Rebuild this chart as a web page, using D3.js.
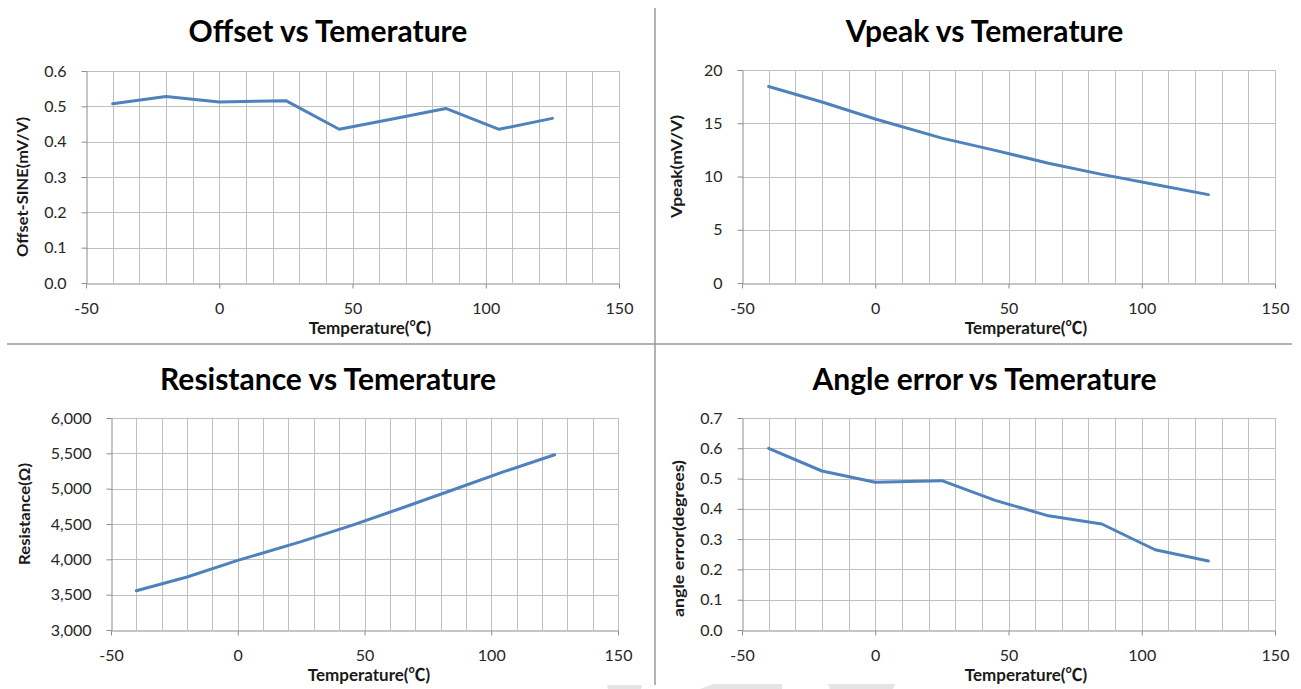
<!DOCTYPE html>
<html>
<head>
<meta charset="utf-8">
<script src="https://cdn.jsdelivr.net/npm/d3@7"></script>
<style>
  body { margin: 0; background: #fff; }
  svg { display: block; }
  text { font-family: Lato, "Noto Sans CJK SC", sans-serif; }
</style>
</head>
<body>
<svg id="chart" width="1301" height="689"></svg>
<script>
// 温度 (x軸)
const temps = [-40, -20, 0, 25, 45, 65, 85, 105, 125];
const xTicks = [-50, 0, 50, 100, 150];

// 各グラフの値
const offsetVals = [0.507, 0.528, 0.512, 0.516, 0.435, 0.464, 0.494, 0.435, 0.466];
const vpeakVals = [18.45, 17.0, 15.4, 13.6, 12.45, 11.25, 10.2, 9.25, 8.3];
const resistanceVals = [3555, 3750, 3985, 4250, 4480, 4730, 4985, 5240, 5480];
const angleVals = [0.60, 0.525, 0.488, 0.493, 0.428, 0.377, 0.350, 0.265, 0.228];

// y軸の目盛り
const offsetTicks = [0, 0.1, 0.2, 0.3, 0.4, 0.5, 0.6];
const vpeakTicks = [0, 5, 10, 15, 20];
const resistanceTicks = [3000, 3500, 4000, 4500, 5000, 5500, 6000];
const angleTicks = [0, 0.1, 0.2, 0.3, 0.4, 0.5, 0.6, 0.7];

const titles = ["Offset vs Temerature", "Vpeak vs Temerature", "Resistance vs Temerature", "Angle error vs Temerature"];
const yLabels = ["Offset-SINE(mV/V)", "Vpeak(mV/V)", "Resistance(Ω)", "angle error(degrees)"];
const xLabel = "Temperature(℃)";

const svg = d3.select("#chart");

// 区切り線
svg.append("line").attr("x1", 7).attr("x2", 1292).attr("y1", 344).attr("y2", 344)
  .attr("stroke", "#9a9a9a").attr("stroke-width", 1.5);
svg.append("line").attr("x1", 655).attr("x2", 655).attr("y1", 8).attr("y2", 685)
  .attr("stroke", "#9a9a9a").attr("stroke-width", 1.5);

// 下端の薄い模様
const marks = [[[607,685],[642,685],[641,689],[608,689]],
               [[700,689],[713,684],[782,684],[782,689]],
               [[828,684],[895,684],[893,689],[830,689]]];
svg.selectAll("polygon.wm").data(marks).enter().append("polygon")
  .attr("class", "wm")
  .attr("points", d => d.map(p => p.join(",")).join(" "))
  .attr("fill", "#e4e4e4");

const panels = [
  { vals: offsetVals, ticks: offsetTicks, fmt: d3.format(".1f"),
    left: 86, right: 619, top: 71, bottom: 283,
    tx: 328, ty: 42, lx: 370, ly: 334, yx: 28, yc: 187, yl: 140 },
  { vals: vpeakVals, ticks: vpeakTicks, fmt: d3.format("d"),
    left: 742, right: 1275, top: 70, bottom: 283,
    tx: 984.5, ty: 42, lx: 1026, ly: 334, yx: 682, yc: 166.5, yl: 103 },
  { vals: resistanceVals, ticks: resistanceTicks, fmt: d3.format(","),
    left: 111, right: 618, top: 418, bottom: 630,
    tx: 328, ty: 390, lx: 369, ly: 681, yx: 30, yc: 514, yl: 102 },
  { vals: angleVals, ticks: angleTicks, fmt: d3.format(".1f"),
    left: 742, right: 1275, top: 418, bottom: 630,
    tx: 984.5, ty: 390, lx: 1026, ly: 681, yx: 684, yc: 538.5, yl: 157 }
];

panels.forEach(function(p, i){
  let x = d3.scaleLinear().domain([-50, 150]).range([p.left, p.right]);
  let y = d3.scaleLinear().domain(d3.extent(p.ticks)).range([p.bottom, p.top]);
  let g = svg.append("g");

  // グリッド
  g.selectAll("line.vg").data(d3.range(-40, 151, 10)).enter().append("line")
    .attr("x1", d => Math.round(x(d)) + 0.5).attr("x2", d => Math.round(x(d)) + 0.5)
    .attr("y1", p.top).attr("y2", p.bottom)
    .attr("stroke", "#c0c0c0");
  g.selectAll("line.hg").data(p.ticks.slice(1)).enter().append("line")
    .attr("x1", p.left).attr("x2", p.right)
    .attr("y1", d => Math.round(y(d)) + 0.5).attr("y2", d => Math.round(y(d)) + 0.5)
    .attr("stroke", "#c0c0c0");

  // 軸
  let ya = g.append("g")
    .attr("transform", "translate(" + (Math.round(p.left) + 0.5) + ",0)")
    .call(d3.axisLeft(y).tickValues(p.ticks).tickFormat(p.fmt).tickSize(5).tickSizeOuter(0).tickPadding(15));
  let xa = g.append("g")
    .attr("transform", "translate(0," + (Math.round(p.bottom) + 0.5) + ")")
    .call(d3.axisBottom(x).tickValues(xTicks).tickFormat(d => String(d))
      .tickSize(5).tickSizeOuter(0).tickPadding(14));
  [ya, xa].forEach(function(a){
    a.select(".domain").attr("stroke", "#8c8c8c");
    a.selectAll(".tick line").attr("stroke", "#8c8c8c");
    a.selectAll(".tick text").attr("font-family", "Lato, sans-serif")
      .attr("font-size", 16).attr("fill", "#262626");
  });

  // 折れ線
  let line = d3.line().x((d, j) => x(temps[j])).y(d => y(d));
  g.append("path").datum(p.vals)
    .attr("d", line)
    .attr("fill", "none")
    .attr("stroke", "#4f81bd")
    .attr("stroke-width", 3)
    .attr("stroke-linejoin", "round")
    .attr("stroke-linecap", "round");

  // タイトルとラベル
  g.append("text").attr("x", p.tx).attr("y", p.ty)
    .attr("text-anchor", "middle").attr("font-size", 30).attr("font-weight", "bold")
    .attr("fill", "#000").text(titles[i]);
  g.append("text").attr("x", p.lx).attr("y", p.ly)
    .attr("text-anchor", "middle").attr("font-size", 17).attr("font-weight", "bold")
    .attr("fill", "#1a1a1a").text(xLabel);
  g.append("text")
    .attr("transform", "translate(" + p.yx + "," + p.yc + ") rotate(-90)")
    .attr("text-anchor", "middle").attr("font-size", 15).attr("font-weight", "bold")
    .attr("textLength", p.yl).attr("lengthAdjust", "spacingAndGlyphs")
    .attr("fill", "#1a1a1a").text(yLabels[i]);
});
</script>
</body>
</html>
